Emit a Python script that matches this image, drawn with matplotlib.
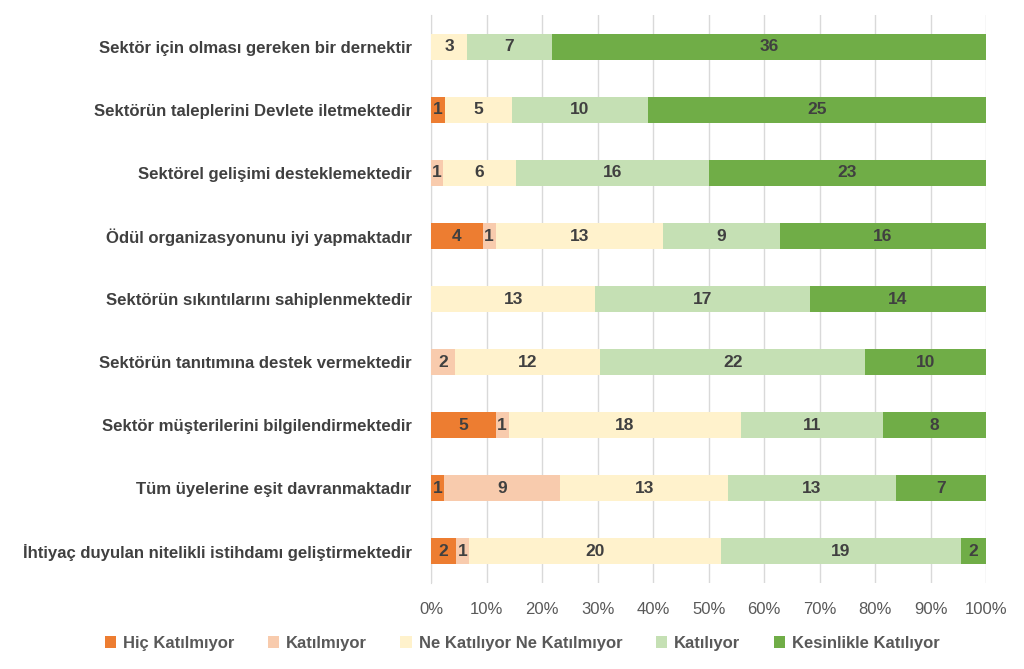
import numpy as np
import matplotlib.pyplot as plt
from matplotlib.ticker import PercentFormatter

plt.rcParams['font.family'] = ['Liberation Sans', 'DejaVu Sans']

categories = [
    "Sektör için olması gereken bir dernektir",
    "Sektörün taleplerini Devlete iletmektedir",
    "Sektörel gelişimi desteklemektedir",
    "Ödül organizasyonunu iyi yapmaktadır",
    "Sektörün sıkıntılarını sahiplenmektedir",
    "Sektörün tanıtımına destek vermektedir",
    "Sektör müşterilerini bilgilendirmektedir",
    "Tüm üyelerine eşit davranmaktadır",
    "İhtiyaç duyulan nitelikli istihdamı geliştirmektedir",
]
series_names = ["Hiç Katılmıyor", "Katılmıyor", "Ne Katılıyor Ne Katılmıyor",
                "Katılıyor", "Kesinlikle Katılıyor"]
hic = [0, 1, 0, 4, 0, 0, 5, 1, 2]
katilmiyor = [0, 0, 1, 1, 0, 2, 1, 9, 1]
ne = [3, 5, 6, 13, 13, 12, 18, 13, 20]
katiliyor = [7, 10, 16, 9, 17, 22, 11, 13, 19]
kesinlikle = [36, 25, 23, 16, 14, 10, 8, 7, 2]
colors = ["#ED7D31", "#F8CBAD", "#FFF2CC", "#C5E0B4", "#70AD47"]

data = np.array([hic, katilmiyor, ne, katiliyor, kesinlikle], dtype=float)
shares = data / data.sum(axis=0)

fig = plt.figure(figsize=(10.24, 6.69), dpi=100)
ax = fig.add_axes([0.421, 0.129, 0.542, 0.848])

y = np.arange(len(categories))
left = np.zeros(len(categories))
txt = "#404040"
for i, name in enumerate(series_names):
    bars = ax.barh(y, shares[i], left=left, height=0.42, color=colors[i],
                   label=name, zorder=3)
    for j, b in enumerate(bars):
        if data[i, j] > 0:
            ax.text(left[j] + shares[i, j] / 2, y[j], str(int(data[i, j])),
                    ha="center", va="center", fontsize=12.5,
                    fontweight="bold", color=txt, zorder=4)
    left += shares[i]

ax.set_ylim(len(categories) - 0.5, -0.5)
ax.set_xlim(0, 1)
ax.set_xticks(np.arange(0, 1.01, 0.1))
ax.xaxis.set_major_formatter(PercentFormatter(1.0, decimals=0))
ax.set_yticks(y)
ax.set_yticklabels(categories, fontsize=12.1, fontweight="bold", color=txt)
ax.tick_params(axis="x", labelsize=12, colors="#595959", length=0, pad=14)
ax.tick_params(axis="y", length=0, pad=14)
ax.grid(axis="x", color="#D9D9D9", linewidth=1, zorder=0)
for s in ["top", "right", "bottom"]:
    ax.spines[s].set_visible(False)
ax.spines["left"].set_color("#D9D9D9")

fig.legend(loc="center", bbox_to_anchor=(0.51, 0.038), ncol=5, frameon=False,
           handlelength=0.7, handleheight=0.7,
           columnspacing=2.0, handletextpad=0.4, labelcolor="#595959",
           prop={"weight": "bold", "size": 12})

fig.savefig("out.png", dpi=100)
